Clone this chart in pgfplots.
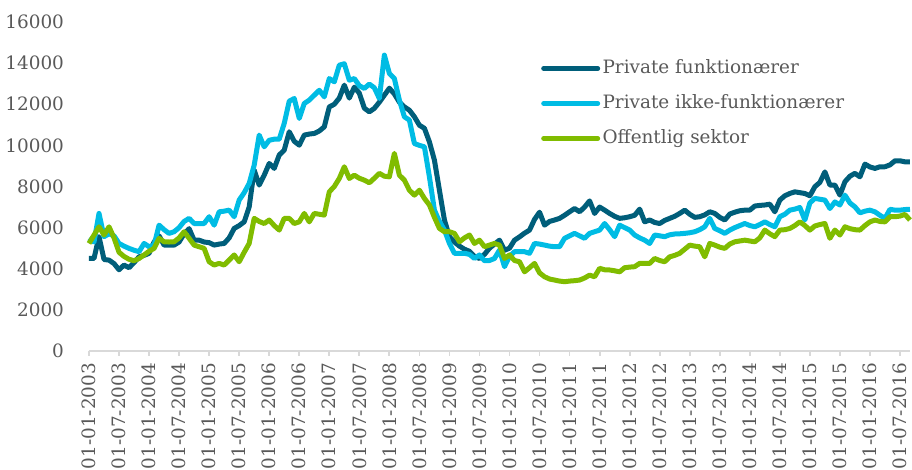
\documentclass[border=0pt]{standalone}
\usepackage{fontspec}
\setmainfont{DejaVu Serif}
\usepackage{pgfplots}
\pgfplotsset{compat=1.18}
\definecolor{cdark}{HTML}{005E7A}
\definecolor{ccyan}{HTML}{00BCE4}
\definecolor{cgreen}{HTML}{80BC00}
\definecolor{ctext}{HTML}{595959}
\definecolor{caxis}{HTML}{D9D9D9}
\begin{document}
\begin{tikzpicture}
\path[use as bounding box, clip] (-44.5pt,-59.5pt) rectangle (411.5pt,175.5pt);
\begin{axis}[
  scale only axis, width=410.5pt, height=164.5pt,
  xmin=0, xmax=164, ymin=0, ymax=16000,
  clip=false,
  axis x line=bottom, axis y line=left,
  x axis line style={-, draw=caxis, line width=0.9pt},
  y axis line style={draw=none},
  ytick={0,2000,...,16000},
  ytick style={draw=none},
  xtick={0,6,...,162},
  xtick style={draw=caxis, line width=0.9pt},
  tick align=outside, major tick length=2.5pt,
  scaled y ticks=false,
  /pgf/number format/1000 sep={},
  /pgf/number format/assume math mode=true,
  every tick label/.append style={font=\fontsize{9.2pt}{11pt}\selectfont, text=ctext},
  yticklabel style={xshift=-6.5pt},
  xticklabel style={rotate=90, anchor=east},
  xticklabels={01-01-2003,01-07-2003,01-01-2004,01-07-2004,01-01-2005,01-07-2005,01-01-2006,01-07-2006,01-01-2007,01-07-2007,01-01-2008,01-07-2008,01-01-2009,01-07-2009,01-01-2010,01-07-2010,01-01-2011,01-07-2011,01-01-2012,01-07-2012,01-01-2013,01-07-2013,01-01-2014,01-07-2014,01-01-2015,01-07-2015,01-01-2016,01-07-2016},
  legend style={draw=none, fill=none, at={(rel axis cs:0.543,0.91)}, anchor=north west,
    font=\fontsize{9.2pt}{11pt}\selectfont, text=ctext, row sep=5pt, nodes={inner xsep=1.2pt}},
  legend cell align=left,
  legend image code/.code={\draw[#1, line cap=round] (0pt,0pt) -- (27pt,0pt);},
  every axis plot/.append style={line width=2.5pt, line join=round, no markers},
]
\addplot[cdark] coordinates {
(0,4500) (1,4500) (2,5560) (3,4450) (4,4420) (5,4250) (6,3950) (7,4180) (8,4050) (9,4300)
(10,4580) (11,4650) (12,4750) (13,5300) (14,5600) (15,5150) (16,5150) (17,5150) (18,5300) (19,5700)
(20,5950) (21,5390) (22,5390) (23,5300) (24,5270) (25,5150) (26,5200) (27,5230) (28,5500) (29,5960)
(30,6100) (31,6280) (32,7010) (33,8800) (34,8070) (35,8550) (36,9120) (37,8880) (38,9530) (39,9770)
(40,10660) (41,10200) (42,10010) (43,10500) (44,10550) (45,10580) (46,10700) (47,10900) (48,11870) (49,12000)
(50,12300) (51,12930) (52,12300) (53,12830) (54,12540) (55,11810) (56,11630) (57,11800) (58,12100) (59,12440)
(60,12780) (61,12500) (62,12100) (63,11870) (64,11710) (65,11390) (66,10980) (67,10830) (68,10170) (69,9280)
(70,7820) (71,6370) (72,5560) (73,5300) (74,5100) (75,4950) (76,4850) (77,4600) (78,4500) (79,4700)
(80,5000) (81,5200) (82,5390) (83,4900) (84,5000) (85,5390) (86,5550) (87,5730) (88,5880) (89,6400)
(90,6750) (91,6120) (92,6300) (93,6370) (94,6450) (95,6600) (96,6770) (97,6930) (98,6770) (99,7000)
(100,7300) (101,6690) (102,7000) (103,6850) (104,6690) (105,6550) (106,6450) (107,6480) (108,6530) (109,6600)
(110,6900) (111,6280) (112,6370) (113,6250) (114,6200) (115,6350) (116,6450) (117,6550) (118,6690) (119,6850)
(120,6650) (121,6500) (122,6530) (123,6620) (124,6770) (125,6690) (126,6500) (127,6370) (128,6660) (129,6750)
(130,6820) (131,6850) (132,6850) (133,7050) (134,7080) (135,7100) (136,7140) (137,6770) (138,7340) (139,7550)
(140,7660) (141,7740) (142,7700) (143,7660) (144,7550) (145,7990) (146,8200) (147,8710) (148,8070) (149,8070)
(150,7580) (151,8230) (152,8500) (153,8640) (154,8470) (155,9090) (156,8950) (157,8880) (158,8960) (159,8960)
(160,9050) (161,9250) (162,9250) (163,9200) (164,9200)
};
\addlegendentry{Private funktionærer}
\addplot[ccyan] coordinates {
(0,5480) (1,5300) (2,6690) (3,5560) (4,5700) (5,5600) (6,5230) (7,5100) (8,4990) (9,4900)
(10,4830) (11,5230) (12,5070) (13,5150) (14,6120) (15,5900) (16,5720) (17,5800) (18,6000) (19,6300)
(20,6450) (21,6200) (22,6200) (23,6200) (24,6530) (25,6120) (26,6770) (27,6800) (28,6850) (29,6530)
(30,7340) (31,7700) (32,8150) (33,9040) (34,10500) (35,9930) (36,10250) (37,10300) (38,10300) (39,11070)
(40,12150) (41,12280) (42,11310) (43,12040) (44,12200) (45,12440) (46,12680) (47,12360) (48,13250) (49,13090)
(50,13900) (51,13970) (52,13170) (53,13250) (54,12900) (55,12770) (56,12980) (57,12800) (58,12280) (59,14390)
(60,13500) (61,13250) (62,12200) (63,11390) (64,11230) (65,10090) (66,10000) (67,9930) (68,8470) (69,6850)
(70,6300) (71,5880) (72,5230) (73,4750) (74,4750) (75,4750) (76,4700) (77,4500) (78,4670) (79,4390)
(80,4400) (81,4500) (82,4910) (83,4100) (84,4600) (85,4830) (86,4830) (87,4830) (88,4750) (89,5230)
(90,5200) (91,5150) (92,5100) (93,5070) (94,5070) (95,5480) (96,5600) (97,5720) (98,5600) (99,5480)
(100,5720) (101,5800) (102,5880) (103,6200) (104,5900) (105,5560) (106,6120) (107,6000) (108,5880) (109,5640)
(110,5500) (111,5390) (112,5230) (113,5640) (114,5600) (115,5560) (116,5650) (117,5690) (118,5700) (119,5720)
(120,5750) (121,5800) (122,5900) (123,6040) (124,6450) (125,5960) (126,5850) (127,5720) (128,5880) (129,6000)
(130,6100) (131,6200) (132,6100) (133,6040) (134,6150) (135,6280) (136,6150) (137,6040) (138,6530) (139,6650)
(140,6850) (141,6900) (142,6980) (143,6370) (144,7200) (145,7420) (146,7380) (147,7340) (148,6930) (149,7250)
(150,7100) (151,7580) (152,7200) (153,7010) (154,6720) (155,6800) (156,6850) (157,6770) (158,6600) (159,6450)
(160,6890) (161,6850) (162,6850) (163,6880) (164,6890)
};
\addlegendentry{Private ikke-funktionærer}
\addplot[cgreen] coordinates {
(0,5230) (1,5640) (2,6040) (3,5640) (4,6040) (5,5500) (6,4800) (7,4600) (8,4460) (9,4390)
(10,4500) (11,4670) (12,4850) (13,4990) (14,5480) (15,5310) (16,5300) (17,5310) (18,5500) (19,5800)
(20,5480) (21,5150) (22,5070) (23,4990) (24,4340) (25,4180) (26,4260) (27,4180) (28,4420) (29,4670)
(30,4340) (31,4800) (32,5230) (33,6450) (34,6300) (35,6200) (36,6370) (37,6100) (38,5880) (39,6450)
(40,6450) (41,6200) (42,6280) (43,6690) (44,6280) (45,6690) (46,6650) (47,6610) (48,7740) (49,8000)
(50,8390) (51,8960) (52,8390) (53,8550) (54,8400) (55,8310) (56,8180) (57,8400) (58,8640) (59,8500)
(60,8470) (61,9610) (62,8550) (63,8310) (64,7820) (65,7580) (66,7820) (67,7420) (68,7100) (69,6500)
(70,5960) (71,5800) (72,5800) (73,5720) (74,5310) (75,5500) (76,5640) (77,5230) (78,5390) (79,5070)
(80,5150) (81,5230) (82,5150) (83,4500) (84,4670) (85,4400) (86,4340) (87,3850) (88,4050) (89,4260)
(90,3800) (91,3610) (92,3500) (93,3450) (94,3400) (95,3370) (96,3400) (97,3420) (98,3450) (99,3550)
(100,3690) (101,3610) (102,4020) (103,3950) (104,3940) (105,3900) (106,3850) (107,4050) (108,4080) (109,4100)
(110,4260) (111,4260) (112,4260) (113,4500) (114,4400) (115,4340) (116,4580) (117,4650) (118,4750) (119,4950)
(120,5150) (121,5100) (122,5070) (123,4580) (124,5230) (125,5150) (126,5050) (127,4990) (128,5200) (129,5310)
(130,5350) (131,5390) (132,5350) (133,5310) (134,5500) (135,5880) (136,5700) (137,5560) (138,5880) (139,5900)
(140,5960) (141,6100) (142,6280) (143,6100) (144,5880) (145,6080) (146,6150) (147,6200) (148,5480) (149,5880)
(150,5640) (151,6040) (152,5950) (153,5900) (154,5880) (155,6100) (156,6280) (157,6370) (158,6300) (159,6280)
(160,6530) (161,6530) (162,6560) (163,6640) (164,6370)
};
\addlegendentry{Offentlig sektor}
\end{axis}
\end{tikzpicture}
\end{document}
